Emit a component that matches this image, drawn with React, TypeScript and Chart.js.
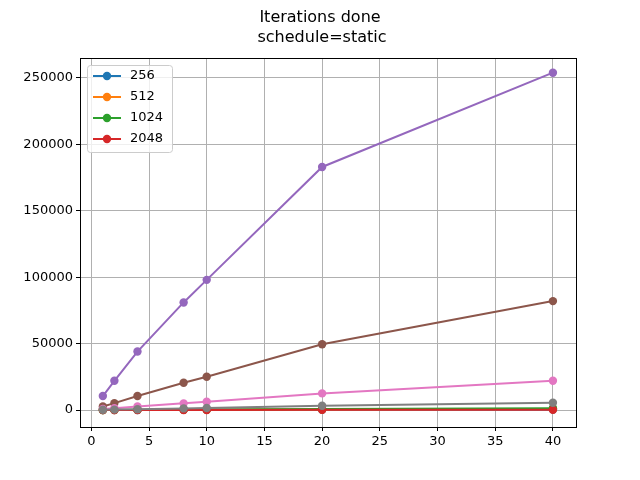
import React, { useEffect, useRef } from "react";
import { Chart, registerables } from "chart.js";
Chart.register(...registerables);

const xs = [1, 2, 4, 8, 10, 20, 40];
const labels = ["256", "512", "1024", "2048", "", "", "", ""];
const colors = ["#1f77b4", "#ff7f0e", "#2ca02c", "#d62728", "#9467bd", "#8c564b", "#e377c2", "#7f7f7f"];
const s256 = [10, 20, 40, 80, 100, 200, 400];
const s512 = [20, 40, 80, 160, 200, 400, 800];
const s1024 = [40, 80, 160, 320, 400, 800, 1400];
const s2048 = [5, 10, 20, 40, 50, 100, 180];
const s5 = [10500, 22000, 44000, 81000, 98000, 183000, 254000];
const s6 = [2600, 5200, 10500, 20500, 25000, 49500, 82000];
const s7 = [700, 1300, 2600, 5000, 6200, 12500, 22000];
const s8 = [150, 300, 600, 1200, 1500, 3200, 5500];
const series = [s256, s512, s1024, s2048, s5, s6, s7, s8];

export default function App() {
  const ref = useRef<HTMLCanvasElement>(null);
  useEffect(() => {
    const font = "'DejaVu Sans', sans-serif";
    const overlay = {
      id: "overlay",
      afterDraw(c: any) {
        const ctx = c.ctx;
        const a = c.chartArea;
        ctx.save();
        ctx.strokeStyle = "#000";
        ctx.lineWidth = 1;
        ctx.strokeRect(Math.round(a.left) + 0.5, Math.round(a.top) + 0.5, Math.round(a.right - a.left), Math.round(a.bottom - a.top));
        ctx.fillStyle = "#000";
        ctx.font = `16px ${font}`;
        ctx.textAlign = "center";
        ctx.textBaseline = "middle";
        ctx.fillText("Iterations done", 320, 18);
        ctx.fillText("schedule=static", 322, 38);
        const lx = 87, ly = 65, lw = 85, lh = 87;
        ctx.fillStyle = "rgba(255,255,255,0.8)";
        ctx.strokeStyle = "#cccccc";
        ctx.beginPath();
        ctx.roundRect(lx + 0.5, ly + 0.5, lw, lh, 3);
        ctx.fill();
        ctx.stroke();
        ctx.font = `13px ${font}`;
        ctx.textAlign = "left";
        for (let i = 0; i < 4; i++) {
          const y = ly + 11 + i * 21;
          ctx.strokeStyle = colors[i];
          ctx.lineWidth = 2;
          ctx.beginPath();
          ctx.moveTo(lx + 6, y);
          ctx.lineTo(lx + 34, y);
          ctx.stroke();
          ctx.fillStyle = colors[i];
          ctx.beginPath();
          ctx.arc(lx + 20, y, 4.2, 0, Math.PI * 2);
          ctx.fill();
          ctx.fillStyle = "#000";
          ctx.fillText(labels[i], lx + 43, y);
        }
        ctx.restore();
      },
    };
    const chart = new Chart(ref.current!, {
      type: "line",
      data: {
        datasets: series.map((s, i) => ({
          label: labels[i],
          data: s.map((v, j) => ({ x: xs[j], y: v })),
          borderColor: colors[i],
          backgroundColor: colors[i],
          borderWidth: 2,
          pointRadius: 4.2,
          pointHoverRadius: 4.2,
          pointBorderWidth: 0,
          order: -i,
        })),
      },
      options: {
        animation: false,
        responsive: false,
        devicePixelRatio: 1,
        layout: { padding: { top: 58, right: 64, left: 0, bottom: 0 } },
        plugins: { legend: { display: false }, title: { display: false }, tooltip: { enabled: false } },
        scales: {
          x: {
            type: "linear",
            min: -0.98,
            max: 42,
            afterBuildTicks: (s: any) => { s.ticks = [0, 5, 10, 15, 20, 25, 30, 35, 40].map((v) => ({ value: v })); },
            afterFit: (s: any) => { s.height = 53; },
            grid: { color: "#b0b0b0", tickColor: "#000", tickLength: 4, lineWidth: 1 },
            border: { color: "#000", width: 1 },
            ticks: { color: "#000", font: { family: font, size: 13 }, maxRotation: 0, padding: 3 },
          },
          y: {
            type: "linear",
            min: -12800,
            max: 265060,
            afterBuildTicks: (s: any) => { s.ticks = [0, 50000, 100000, 150000, 200000, 250000].map((v) => ({ value: v })); },
            afterFit: (s: any) => { s.width = 80; },
            grid: { color: "#b0b0b0", tickColor: "#000", tickLength: 4, lineWidth: 1 },
            border: { color: "#000", width: 1 },
            ticks: { color: "#000", font: { family: font, size: 13 }, padding: 3, callback: (v: any) => String(v) },
          },
        },
      },
      plugins: [overlay],
    });
    return () => chart.destroy();
  }, []);
  return (
    <div style={{ position: "fixed", left: 0, top: 0, width: 640, height: 480, background: "#fff" }}>
      <canvas ref={ref} width={640} height={480} />
    </div>
  );
}
